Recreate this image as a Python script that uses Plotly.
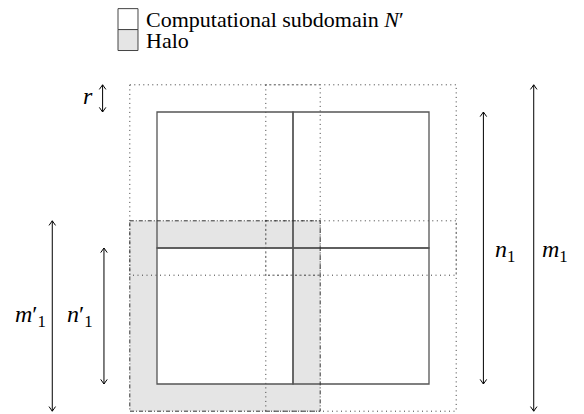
import plotly.graph_objects as go

# geometry in grid units (one subdomain side = 5 units, halo width r = 1)
sub_edges = [0, 5, 10]          # boundaries of the 2x2 computational subdomains
halo_r = 1                      # halo width r
shaded = (0, 1)                 # (column, row) of the subdomain whose halo is shaded

# vertical dimension arrows
arrow_x = [-2.0, 12.0, 13.85, -3.85, -1.95]
arrow_y0 = [-1, 0, -1, 4, 5]
arrow_y1 = [0, 10, 11, 11, 10]
arrow_labels = ["<i>r</i>", "<i>n</i><sub>1</sub>", "<i>m</i><sub>1</sub>",
                "<i>m</i>′<sub>1</sub>", "<i>n</i>′<sub>1</sub>"]
label_x = [-2.53, 12.8, 14.65, -4.65, -2.82]
label_y = [-0.6, 5.1, 5.1, 7.5, 7.5]

legend_labels = ["Computational subdomain <i>N</i>′", "Halo"]
legend_fill = ["white", "#e5e5e5"]

PX = 27.2                       # pixels per grid unit
BODY = 8                        # default page margin of the html body
ORIGIN = (157 - BODY, 112 - BODY)
W, H = 584 - BODY, 414 - BODY

SOLID = "#555555"
DOT = "#3a3a3a"
FONT = "Liberation Serif"

fig = go.Figure()
shapes = []
annotations = []

cells = [(c, r) for r in range(2) for c in range(2)]


def cell_box(c, r, grow=0):
    return (sub_edges[c] - grow, sub_edges[r] - grow,
            sub_edges[c + 1] + grow, sub_edges[r + 1] + grow)


# shaded halo ring
x0, y0, x1, y1 = cell_box(*shaded, grow=halo_r)
shapes.append(dict(type="rect", x0=x0, y0=y0, x1=x1, y1=y1,
                   fillcolor="#e5e5e5", line=dict(width=0), layer="below"))
x0, y0, x1, y1 = cell_box(*shaded)
shapes.append(dict(type="rect", x0=x0, y0=y0, x1=x1, y1=y1,
                   fillcolor="white", line=dict(width=0), layer="below"))

# halos of the other subdomains (dotted)
for c, r in cells:
    if (c, r) == shaded:
        continue
    x0, y0, x1, y1 = cell_box(c, r, grow=halo_r)
    shapes.append(dict(type="rect", x0=x0, y0=y0, x1=x1, y1=y1,
                       line=dict(color=DOT, width=1, dash="1px,3.5px")))

# subdomains (solid)
for c, r in cells:
    x0, y0, x1, y1 = cell_box(c, r)
    shapes.append(dict(type="rect", x0=x0, y0=y0, x1=x1, y1=y1,
                       line=dict(color=SOLID, width=1.3)))

# border of the shaded halo (dash-dot)
x0, y0, x1, y1 = cell_box(*shaded, grow=halo_r)
shapes.append(dict(type="rect", x0=x0, y0=y0, x1=x1, y1=y1,
                   line=dict(color="#333333", width=1, dash="4px,2px,1px,2px")))

# arrows with open heads at both ends
hw, hl = 0.12, 0.17
for x, ya, yb, lab, lx, ly in zip(arrow_x, arrow_y0, arrow_y1, arrow_labels, label_x, label_y):
    shapes.append(dict(type="line", x0=x, x1=x, y0=ya, y1=yb,
                       line=dict(color="black", width=1)))
    shapes.append(dict(type="path", line=dict(color="black", width=1),
                       path=f"M {x-hw},{ya+hl} L {x},{ya} L {x+hw},{ya+hl}"))
    shapes.append(dict(type="path", line=dict(color="black", width=1),
                       path=f"M {x-hw},{yb-hl} L {x},{yb} L {x+hw},{yb-hl}"))
    annotations.append(dict(x=lx, y=ly, text=lab, showarrow=False,
                            font=dict(family=FONT, size=24, color="black")))

# legend (kept just inside the top edge of the figure)
box_x0, box_x1 = -1.434, -0.699
box_y = [-3.8, -3.03, -2.26]
for i, (lab, fill) in enumerate(zip(legend_labels, legend_fill)):
    shapes.append(dict(type="rect", x0=box_x0, x1=box_x1, y0=box_y[i], y1=box_y[i + 1],
                       fillcolor=fill, line=dict(color="#444444", width=1)))
    annotations.append(dict(x=-0.48, y=(box_y[i] + box_y[i + 1]) / 2, text=lab,
                            showarrow=False, xanchor="left",
                            font=dict(family=FONT, size=22, color="black")))

fig.update_layout(
    width=W, height=H,
    margin=dict(l=0, r=0, t=0, b=0),
    paper_bgcolor="white", plot_bgcolor="white",
    shapes=shapes, annotations=annotations,
    showlegend=False,
)
fig.update_xaxes(range=[-ORIGIN[0] / PX, (W - ORIGIN[0]) / PX], visible=False)
fig.update_yaxes(range=[(H - ORIGIN[1]) / PX, -ORIGIN[1] / PX], visible=False)

fig.write_html("out.html")
